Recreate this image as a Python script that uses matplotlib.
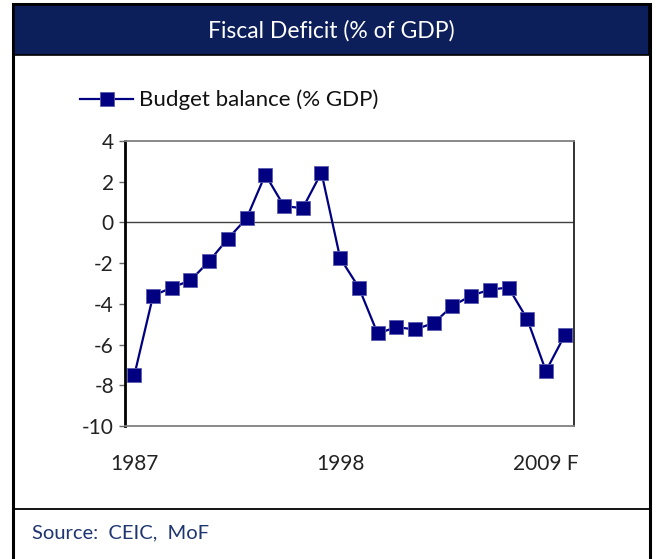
import matplotlib
matplotlib.use("Agg")
import matplotlib.pyplot as plt
from matplotlib.patches import Rectangle
from matplotlib.lines import Line2D

years = [str(y) for y in range(1987, 2011)]
tick_labels = {0: "1987", 11: "1998", 22: "2009 F"}
budget_balance = [-7.5, -3.6, -3.2, -2.85, -1.9, -0.8, 0.2, 2.35, 0.8, 0.7, 2.45,
                  -1.75, -3.2, -5.45, -5.15, -5.25, -4.95, -4.1, -3.6, -3.3, -3.2,
                  -4.75, -7.3, -5.55]
yticks = [4, 2, 0, -2, -4, -6, -8, -10]

W, H = 657, 559
plt.rcParams['font.family'] = ['Lato', 'DejaVu Sans']
fig = plt.figure(figsize=(W / 100, H / 100), dpi=100)

def fx(px):
    return px / W

def fy(py):
    return 1 - py / H

navy = "#000080"
title_bg = "#0c1f5b"

# outer frame
fig.add_artist(Rectangle((fx(13), fy(562)), fx(650) - fx(13), fy(4) - fy(562),
                         transform=fig.transFigure, facecolor="white",
                         edgecolor="black", lw=2.2, zorder=0))
# title bar
fig.add_artist(Rectangle((fx(14), fy(55)), fx(649) - fx(14), fy(5) - fy(55),
                         transform=fig.transFigure, facecolor=title_bg,
                         edgecolor="black", lw=1.2, zorder=1))
fig.text(fx(331), fy(31), "Fiscal Deficit (% of GDP)", color="white",
         fontsize=16.5, ha="center", va="center")
# source separator
fig.add_artist(Line2D([fx(13), fx(650)], [fy(509), fy(509)],
                      transform=fig.transFigure, color="black", lw=1.3))
fig.text(fx(32), fy(533), "Source:  CEIC,  MoF", color="#1f3570",
         fontsize=14.5, ha="left", va="center")

ax = fig.add_axes([fx(125), fy(426), fx(574) - fx(125), fy(141) - fy(426)])
x = list(range(len(years)))
line, = ax.plot(x, budget_balance, color=navy, lw=1.6, marker="s",
                markersize=9.5, markerfacecolor=navy,
                markeredgecolor="#5a5ab0", markeredgewidth=0.6, zorder=3,
                clip_on=False)
ax.axhline(0, color="#404040", lw=1.0, zorder=2)
ax.set_xlim(-0.5, len(years) - 0.5)
ax.set_ylim(-10, 4)
ax.set_yticks(yticks)
ax.set_yticklabels([str(v) for v in yticks])
ax.set_xticks(list(tick_labels.keys()))
ax.set_xticklabels(list(tick_labels.values()))
ax.tick_params(axis="x", length=0, pad=20, labelsize=15, colors="#222222")
ax.tick_params(axis="y", length=4, width=1, color="#666666", pad=4,
               labelsize=15, labelcolor="#222222")
ax.spines["left"].set_color("black")
ax.spines["left"].set_linewidth(2)
ax.spines["right"].set_color("#222222")
ax.spines["right"].set_linewidth(1.3)
ax.spines["top"].set_color("#808080")
ax.spines["top"].set_linewidth(1.3)
ax.spines["bottom"].set_color("#808080")
ax.spines["bottom"].set_linewidth(1.3)

# legend
leg = fig.legend([line], ["Budget balance (% GDP)"], loc="center left",
                 bbox_to_anchor=(fx(80), fy(100)), frameon=False,
                 fontsize=16, handlelength=2.4, handletextpad=0.25,
                 borderpad=0, borderaxespad=0, labelcolor="#111111")

fig.savefig("out.png", dpi=100)
